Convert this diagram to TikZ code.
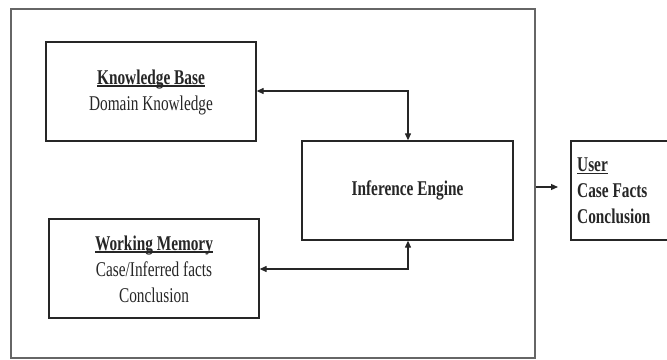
\documentclass[tikz,border=0pt]{standalone}
\usepackage{fontspec}
\setmainfont{Liberation Serif}[FakeStretch=0.73]
\usetikzlibrary{arrows.meta}
\newcommand{\ulbase}[1]{\setbox0\hbox{#1}\rlap{\rule[-2.6pt]{\wd0}{1.8pt}}\box0}
\begin{document}
\begin{tikzpicture}[x=1pt,y=-1pt,
  box/.style={draw=black!85, line width=1.3pt, inner sep=0pt},
  txt/.style={font=\fontsize{21}{26}\selectfont, text=black!85},
  arr/.style={line width=1.2pt, draw=black!85, -{Triangle[length=7pt,width=6pt]}},
  darr/.style={line width=1.2pt, draw=black!85, {Triangle[length=7pt,width=6pt]}-{Triangle[length=7pt,width=6pt]}}]
\useasboundingbox (0,0) rectangle (667,359);
\clip (0,0) rectangle (667,359);
\node[draw=black!60, line width=1.5pt, minimum width=524pt, minimum height=349pt, inner sep=0pt] (outer) at (273,183.5) {};
\node[box, minimum width=210pt, minimum height=99pt] (kb) at (151,91.5) {};
\node[txt, align=center] (kbt) at (151,92) {\textbf{\ulbase{Knowledge Base}}\\Domain Knowledge};
\node[box, minimum width=210pt, minimum height=99pt] (wm) at (154,268.5) {};
\node[txt, align=center] (wmt) at (154,269) {\textbf{\ulbase{Working Memory}}\\Case/Inferred facts\\Conclusion};
\node[box, minimum width=211pt, minimum height=99pt] (ie) at (407.5,190.5) {};
\node[txt] (iet) at (407.5,190) {\textbf{Inference Engine}};
\node[box, minimum width=110pt, minimum height=99pt] (user) at (626,190.5) {};
\node[txt, align=left, anchor=west, inner sep=0pt] (usert) at (577,191) {\textbf{\ulbase{User}}\\\textbf{Case Facts}\\\textbf{Conclusion}};
\coordinate (c1) at (408,91);
\coordinate (c2) at (408,269);
\coordinate (c3) at (558,187);
\draw[darr] (kb.east |- c1) -- (c1) -- (c1 |- ie.north);
\draw[darr] (wm.east |- c2) -- (c2) -- (c2 |- ie.south);
\draw[arr] (outer.east |- c3) -- (c3);
\end{tikzpicture}
\end{document}
